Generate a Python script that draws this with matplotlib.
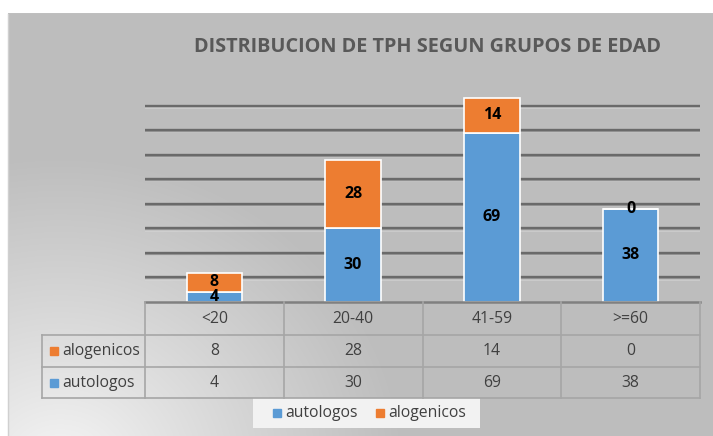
import numpy as np
import matplotlib
matplotlib.use('Agg')
import matplotlib.pyplot as plt
from matplotlib.patches import Rectangle

categories = ['<20', '20-40', '41-59', '>=60']
autologos = [4, 30, 69, 38]
alogenicos = [8, 28, 14, 0]
title = 'DISTRIBUCION DE TPH SEGUN GRUPOS DE EDAD'

BLUE = '#5b9bd5'
ORANGE = '#ed7d31'
TXT = '#404040'
W, H = 713, 436

plt.rcParams['font.family'] = ['Open Sans', 'DejaVu Sans']

fig = plt.figure(figsize=(W / 100, H / 100), dpi=100)

# --- background: chart area with a soft radial gradient ---
bg = fig.add_axes([0, 0, 1, 1], zorder=0)
bg.set_xlim(0, W)
bg.set_ylim(H, 0)
bg.axis('off')
yy, xx = np.mgrid[0:H, 0:W]
d = np.sqrt((xx - 60.0) ** 2 + ((yy - 470.0) * 1.1) ** 2)
t = np.clip(d / 340.0, 0, 1) ** 0.9
lo, hi = np.array([0.97, 0.97, 0.97]), np.array([0.745, 0.745, 0.745])
img = lo[None, None, :] * (1 - t[..., None]) + hi[None, None, :] * t[..., None]
img[:14, :, :] = 1.0
img[:, :8, :] = 1.0
bg.imshow(img, extent=(0, W, H, 0), aspect='auto', interpolation='bilinear')
bg.plot([8, 8], [14, H], color='#d0d0d0', lw=1)

# --- plot area ---
x0, x1, yb, yt = 145, 700, 302, 81
ax = fig.add_axes([x0 / W, 1 - yb / H, (x1 - x0) / W, (yb - yt) / H], zorder=1)
ax.patch.set_alpha(0)
ax.set_xlim(-0.5, len(categories) - 0.5)
ax.set_ylim(0, 90)
for v in range(10, 90, 10):
    ax.axhline(v - 0.9, color='#d8d8d8', lw=1.2, alpha=0.6, zorder=0)
    ax.axhline(v, color='#6a6a6a', lw=1.7, zorder=0.5)
    ax.axhline(v - 0.35, color='#9a9a9a', lw=1.0, zorder=0.4)
xs = np.arange(len(categories))
b1 = ax.bar(xs, autologos, width=0.4, color=BLUE, edgecolor='white',
            lw=1.2, zorder=2)
b2 = ax.bar(xs, alogenicos, width=0.4, bottom=autologos, color=ORANGE,
            edgecolor='white', lw=1.2, zorder=2)
ax.bar_label(b1, label_type='center', fontsize=11.5, fontweight='bold',
             color='black')
ax.bar_label(b2, label_type='center', fontsize=11.5, fontweight='bold',
             color='black')
ax.set_xticks([])
ax.set_yticks([])
for s in ax.spines.values():
    s.set_visible(False)

# --- overlay in pixel coords: title, data table, legend ---
ov = fig.add_axes([0, 0, 1, 1], zorder=2)
ov.patch.set_alpha(0)
ov.set_xlim(0, W)
ov.set_ylim(H, 0)
ov.axis('off')

ov.text(428, 47, title, ha='center', va='center', fontsize=14.3,
        fontweight='bold', color='#595959')

lc = '#a6a6a6'
fs = 11.3
col_w = (x1 - x0) / len(categories)
rows = [302, 335, 367, 398]
ov.plot([x0, x1], [302, 302], color='#808080', lw=1.8)
for y in rows[1:]:
    ov.plot([42, x1], [y, y], color=lc, lw=1.2)
for i in range(len(categories) + 1):
    ov.plot([x0 + i * col_w] * 2, [302, 398], color=lc, lw=1.2)
ov.plot([42, 42], [335, 398], color=lc, lw=1.2)

for i, c in enumerate(categories):
    cx = x0 + (i + 0.5) * col_w
    ov.text(cx, 318.5, c, ha='center', va='center', fontsize=fs, color=TXT)
    ov.text(cx, 351, str(alogenicos[i]), ha='center', va='center',
            fontsize=fs, color=TXT)
    ov.text(cx, 382.5, str(autologos[i]), ha='center', va='center',
            fontsize=fs, color=TXT)

for y, name, col in [(351, 'alogenicos', ORANGE), (382.5, 'autologos', BLUE)]:
    ov.add_patch(Rectangle((50, y - 4), 8, 8, color=col))
    ov.text(62, y, name, ha='left', va='center', fontsize=fs, color=TXT)

# legend box
ov.add_patch(Rectangle((253, 398), 227, 30, facecolor='#f2f2f2',
                       edgecolor='none'))
for lx, name, col in [(273, 'autologos', BLUE), (376, 'alogenicos', ORANGE)]:
    ov.add_patch(Rectangle((lx, 409), 8, 8, color=col))
    ov.text(lx + 12, 413, name, ha='left', va='center', fontsize=fs,
            color=TXT)

fig.savefig('out.png', dpi=100)
